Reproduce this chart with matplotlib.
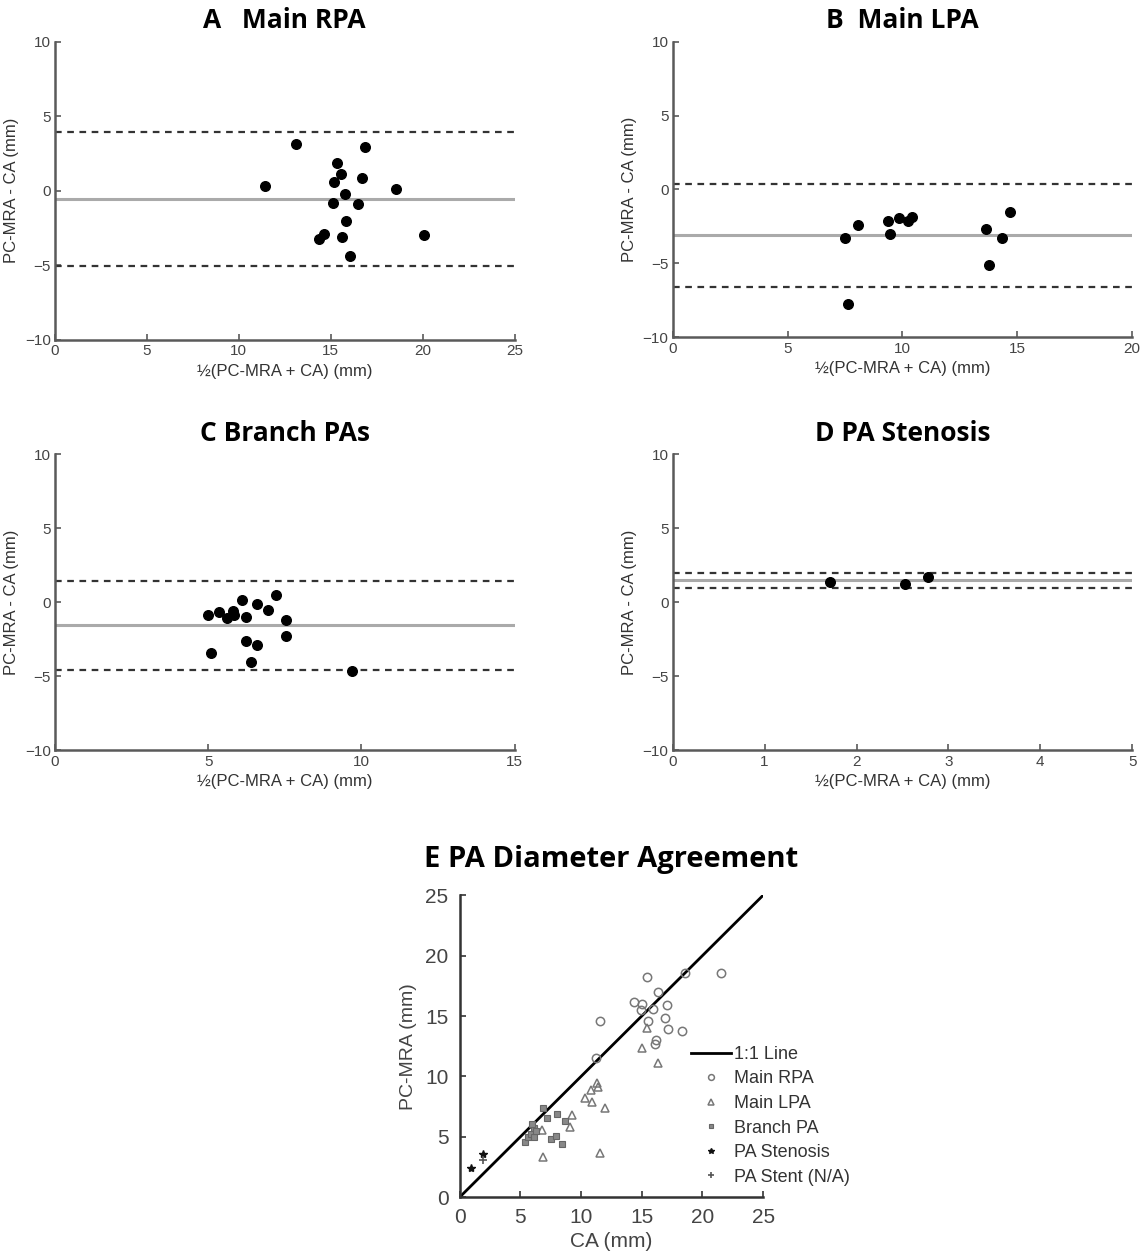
import matplotlib
matplotlib.use("Agg")
from matplotlib import pyplot as plt

# ---- Bland-Altman data (x = mean of methods, y = PC-MRA - CA), mm ----
rpa_mean = [13.1, 16.85, 15.35, 15.55, 15.2, 16.7, 11.4, 18.55, 15.8, 15.1, 16.5, 15.85, 14.65, 14.35, 15.6, 20.1, 16.05]
rpa_diff = [3.1, 2.9, 1.85, 1.1, 0.6, 0.85, 0.35, 0.15, -0.2, -0.8, -0.9, -2.0, -2.9, -3.25, -3.1, -2.95, -4.4]
rpa_limits = (-0.55, 3.95, -5.05)  # mean, upper, lower

lpa_mean = [7.5, 8.05, 9.35, 9.45, 9.85, 10.25, 10.4, 7.65, 13.65, 14.35, 14.7, 13.75]
lpa_diff = [-3.25, -2.4, -2.1, -3.0, -1.95, -2.1, -1.85, -7.75, -2.65, -3.25, -1.55, -5.1]
lpa_limits = (-3.1, 0.4, -6.6)

br_mean = [5.0, 5.35, 5.6, 5.8, 5.85, 6.1, 6.25, 6.6, 6.95, 7.2, 7.55, 7.55, 5.1, 6.25, 6.6, 6.4, 9.7]
br_diff = [-0.85, -0.65, -1.05, -0.6, -0.85, 0.15, -1.0, -0.1, -0.5, 0.5, -1.2, -2.3, -3.45, -2.6, -2.85, -4.0, -4.65]
br_limits = (-1.55, 1.45, -4.55)

st_mean = [1.71, 2.53, 2.78]
st_diff = [1.4, 1.27, 1.72]
st_limits = (1.5, 2.0, 1.0)

# ---- Diameter agreement (x = CA, y = PC-MRA), mm ----
e_rpa_ca = [15.45, 18.55, 16.35, 14.4, 15.0, 14.95, 15.95, 17.05, 15.5, 16.95, 17.2, 18.35, 16.15, 16.05, 11.6, 11.25, 21.55]
e_rpa_mr = [18.25, 18.6, 17.0, 16.15, 16.0, 15.5, 15.55, 15.95, 14.6, 14.8, 13.9, 13.75, 13.05, 12.65, 14.6, 11.5, 18.6]
e_lpa_ca = [15.45, 15.0, 16.35, 11.3, 11.4, 10.8, 10.35, 10.9, 12.0, 9.25, 9.1, 6.75, 6.85, 11.6]
e_lpa_mr = [14.0, 12.35, 11.15, 9.45, 9.1, 8.9, 8.25, 7.9, 7.4, 6.8, 5.8, 5.6, 3.3, 3.7]
e_br_ca = [6.9, 7.2, 8.05, 8.7, 5.4, 5.6, 5.85, 6.1, 6.15, 6.3, 7.5, 7.95, 8.4, 6.0]
e_br_mr = [7.35, 6.6, 6.9, 6.3, 4.6, 5.0, 5.2, 5.7, 5.0, 5.45, 4.85, 5.05, 4.4, 6.1]
e_sten_ca = [0.95, 1.9]
e_sten_mr = [2.4, 3.6]
e_stent_ca = [1.9]
e_stent_mr = [3.1]

plt.rcParams['font.family'] = ['Liberation Sans', 'DejaVu Sans']
title_font = dict(fontsize=19, fontweight='bold', family=['Open Sans', 'DejaVu Sans'])
axis_col = '#5a5a5a'

fig = plt.figure(figsize=(11.46, 12.59), dpi=100)


def style_axes(ax, col, tick_size, pad=3):
    for s in ['top', 'right']:
        ax.spines[s].set_visible(False)
    for s in ['left', 'bottom']:
        ax.spines[s].set_color(col)
        ax.spines[s].set_linewidth(1.8)
    ax.tick_params(direction='in', length=4, width=1.2, color=col,
                   labelcolor='#444444', labelsize=tick_size, pad=pad)


def ba_panel(rect, xs, ys, limits, xmax, xticks, title):
    ax = fig.add_axes(rect)
    mean, upper, lower = limits
    ax.axhline(upper, color='#333333', ls=(0, (3, 2.5)), lw=1.6)
    ax.axhline(lower, color='#333333', ls=(0, (3, 2.5)), lw=1.6)
    ax.axhline(mean, color='#aaaaaa', lw=2.2)
    ax.scatter(xs, ys, s=48, color='black', zorder=3)
    ax.set_xlim(0, xmax)
    ax.set_ylim(-10, 10)
    ax.set_xticks(xticks)
    ax.set_yticks([-10, -5, 0, 5, 10])
    ax.set_xlabel('½(PC-MRA + CA) (mm)', fontsize=12, color='#333333', labelpad=4)
    ax.set_ylabel('PC-MRA - CA (mm)', fontsize=12, color='#333333', labelpad=4)
    ax.set_title(title, pad=10, **title_font)
    style_axes(ax, axis_col, 11)
    return ax


ba_panel([0.048, 0.730, 0.401, 0.237], rpa_mean, rpa_diff, rpa_limits, 25,
         [0, 5, 10, 15, 20, 25], 'A   Main RPA')
ba_panel([0.587, 0.732, 0.401, 0.235], lpa_mean, lpa_diff, lpa_limits, 20,
         [0, 5, 10, 15, 20], 'B  Main LPA')
ba_panel([0.048, 0.404, 0.401, 0.235], br_mean, br_diff, br_limits, 15,
         [0, 5, 10, 15], 'C Branch PAs')
ba_panel([0.587, 0.404, 0.401, 0.235], st_mean, st_diff, st_limits, 5,
         [0, 1, 2, 3, 4, 5], 'D PA Stenosis')

# ---- panel E ----
ax = fig.add_axes([0.401, 0.049, 0.265, 0.240])
ax.plot([0, 25], [0, 25], color='black', lw=2, label='1:1 Line')
ax.plot(e_rpa_ca, e_rpa_mr, 'o', ms=6, mfc='none', mec='#777777', mew=1.1, ls='none', label='Main RPA')
ax.plot(e_lpa_ca, e_lpa_mr, '^', ms=6, mfc='none', mec='#777777', mew=1.1, ls='none', label='Main LPA')
ax.plot(e_br_ca, e_br_mr, 's', ms=5, mfc='#888888', mec='#666666', mew=0.8, ls='none', label='Branch PA')
ax.plot(e_sten_ca, e_sten_mr, '*', ms=6, color='#111111', ls='none', label='PA Stenosis')
ax.plot(e_stent_ca, e_stent_mr, '+', ms=6, color='#555555', mew=1.2, ls='none', label='PA Stent (N/A)')
ax.set_xlim(0, 25)
ax.set_ylim(0, 25)
ax.set_xticks([0, 5, 10, 15, 20, 25])
ax.set_yticks([0, 5, 10, 15, 20, 25])
ax.set_xlabel('CA (mm)', fontsize=15, color='#444444', labelpad=3)
ax.set_ylabel('PC-MRA (mm)', fontsize=14, color='#444444', labelpad=6)
ax.set_title('E PA Diameter Agreement', pad=20, **dict(title_font, fontsize=21))
style_axes(ax, '#333333', 15, pad=8)
ax.legend(loc='upper left', bbox_to_anchor=(0.71, 0.555), frameon=False, fontsize=13,
          handlelength=2.2, handletextpad=0.15, labelspacing=0.42, markerscale=0.7,
          labelcolor='#333333')

fig.savefig('out.png', dpi=100)
